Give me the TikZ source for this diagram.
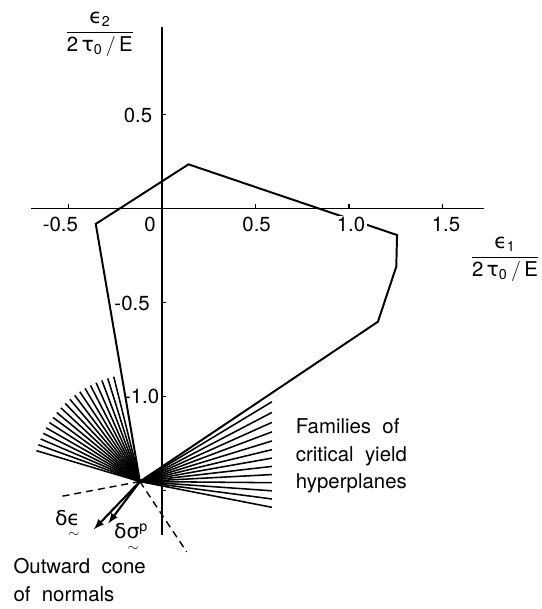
\documentclass[tikz,border=0pt]{standalone}
\usepackage{amsmath}
\usepackage{fontspec}
\setmainfont{TeX Gyre Heros}
\newfontfamily\grkfont{DejaVu Sans}
\newcommand{\gk}[1]{\text{\grkfont #1}}
\usetikzlibrary{arrows, math}

\begin{document}
\begin{tikzpicture}[x=4.675cm, y=4.7cm,
  font=\fontsize{14.5}{19.5}\selectfont,
  axisline/.style={line width=0.8pt},
  yieldline/.style={line width=1.4pt, line join=miter},
  fanline/.style={line width=1.1pt},
  normline/.style={dashed, line width=1pt, dash pattern=on 5pt off 3.5pt},
  vecline/.style={-latex, line width=1.5pt}]
\tikzmath{
\tk=0.022;
\rl=2.7;
\dxr=0.706;
}
\useasboundingbox (-0.866,1.108) rectangle (2.032,-2.131);
%axes
\draw[axisline] (-0.70,0) -- (1.722,0);
\draw[axisline] (0,0.966) -- (0,-1.738);
\foreach \t in {-0.5,0.5,1.0,1.5}
  \draw[axisline] (\t,0) -- +(0,\tk);
\foreach \t in {0.5,-0.5,-1.0,-1.5}
  \draw[axisline] (0,\t) -- +(\tk,0);
%yield polygon
\coordinate (A) at (-0.354,-0.083);
\coordinate (B) at (0.142,0.234);
\coordinate (C) at (1.257,-0.142);
\coordinate (D) at (1.253,-0.31);
\coordinate (E) at (1.155,-0.603);
\coordinate (K) at (-0.118,-1.453);
\draw[yieldline] (A) -- (B) -- (C) -- (D) -- (E) -- (K) -- cycle;
%tick labels
\node (xm5) at (-0.543,-0.086) {-0.5};
\node (x0) at (-0.064,-0.086) {0};
\node (x5) at (0.506,-0.086) {0.5};
\node[fill=white, inner sep=1pt] (x10) at (1.011,-0.086) {1.0};
\node (x15) at (1.519,-0.086) {1.5};
\node (y5) at (-0.128,0.494) {0.5};
\node (ym5) at (-0.16,-0.504) {-0.5};
\node (ym10) at (-0.109,-1.002) {-1.0};
%axis labels
\node (ylab) at (-0.332,0.925) {$\dfrac{\gk{ϵ}_{\mathrm{2}}}{\mathrm{2}\,\gk{τ}_{\mathrm{0}}\,/\,\mathrm{E}}$};
\node (xlab) at (1.834,-0.27) {$\dfrac{\gk{ϵ}_{\mathrm{1}}}{\mathrm{2}\,\gk{τ}_{\mathrm{0}}\,/\,\mathrm{E}}$};
%families of hyperplanes
\foreach \a in {104,107.3,...,164}
  \draw[fanline] (K) -- +(\a:\rl cm);
\foreach \a in {-11,-7.5,...,31.5}
  \draw[fanline] (K) -- +(\dxr,{\dxr*tan(\a)});
%cone of normals
\coordinate (nl) at (-0.549,-1.534);
\coordinate (nr) at (0.132,-1.827);
\draw[normline] (K) -- (nl);
\draw[normline] (K) -- (nr);
\coordinate (de) at (-0.364,-1.707);
\coordinate (ds) at (-0.287,-1.676);
\draw[vecline] (K) -- (de);
\draw[vecline] (K) -- (ds);
\node[inner sep=1pt] (deps) at (-0.505,-1.685) {$\gk{δ}\underset{\sim}{\gk{ϵ}}$};
\node[inner sep=1pt] (dsig) at (-0.165,-1.755) {$\gk{δ}\underset{\sim}{\gk{σ}}^{\mathrm{p}}$};
%texts
\node[anchor=west, align=left] (fam) at (0.69,-1.318) {Families\ \ of\\critical\ \ yield\\hyperplanes};
\node[anchor=west, align=left] (cone) at (-0.82,-1.977) {Outward\ \ cone\\of\ \ normals};
\end{tikzpicture}
\end{document}
